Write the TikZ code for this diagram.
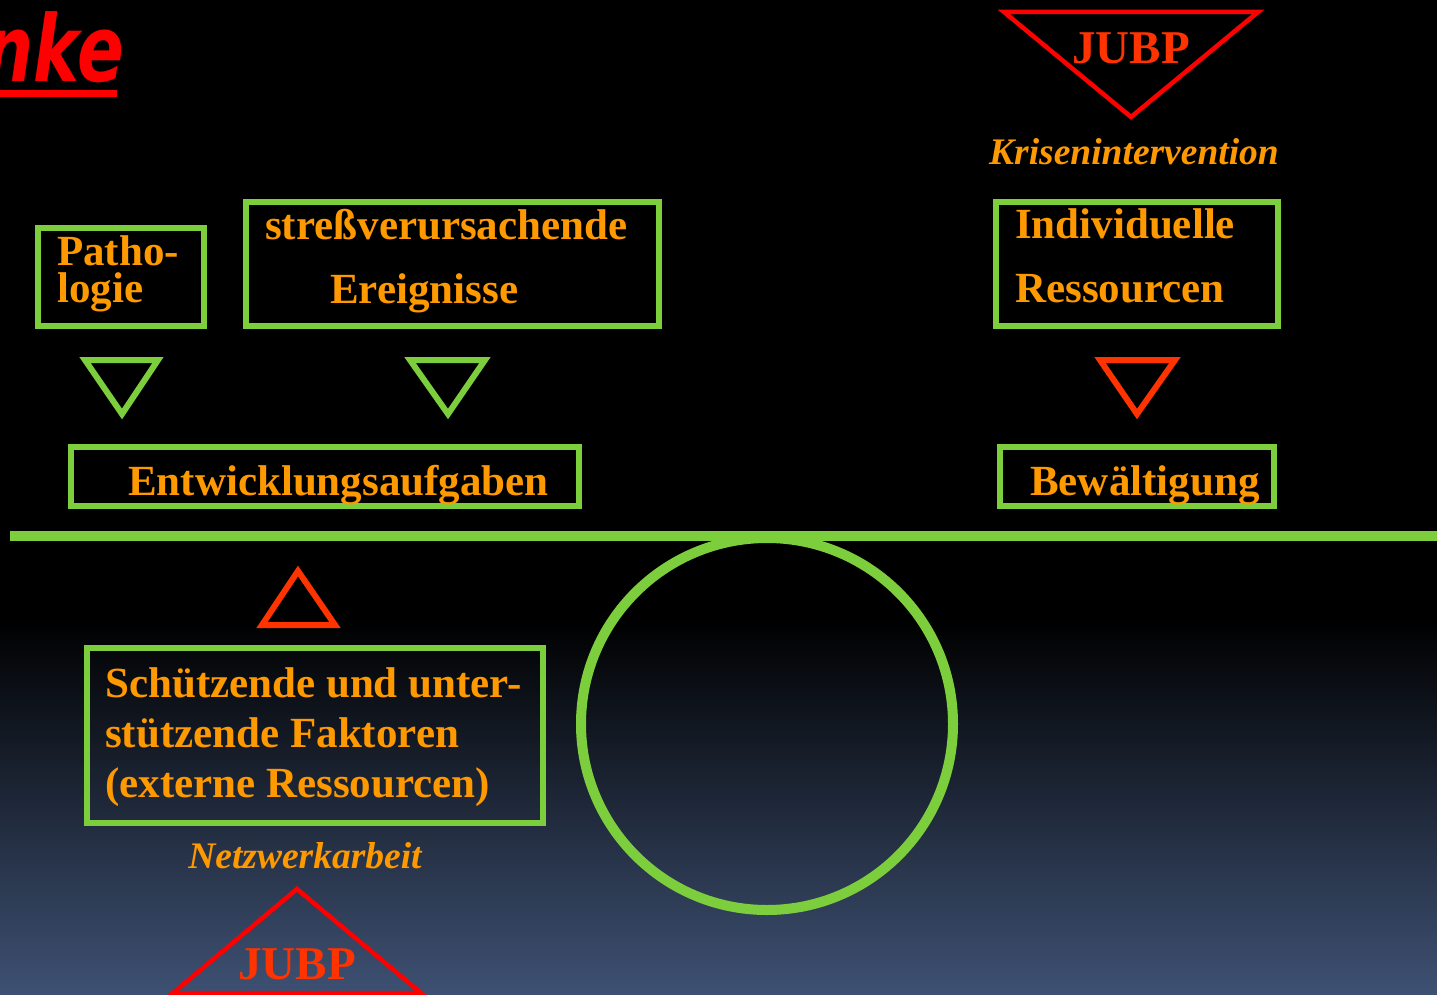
\documentclass[tikz,border=0pt]{standalone}
\usepackage{fontspec}
\setmainfont{Liberation Serif}
\newfontfamily\handfont{DejaVu Sans}
\definecolor{grn}{RGB}{125,206,60}
\definecolor{org}{RGB}{255,153,0}
\definecolor{rd}{RGB}{255,51,0}
\definecolor{pure}{RGB}{255,0,0}
\definecolor{bgbot}{RGB}{62,81,115}
\tikzset{
  box/.style={draw=grn, line width=6pt},
  tri/.style={line width=6pt, miter limit=10},
  lbl/.style={text=org, inner sep=0pt, anchor=base west, font=\bfseries\fontsize{43}{50}\selectfont},
  ital/.style={text=org, inner sep=0pt, anchor=base, font=\bfseries\itshape\fontsize{37.5}{44}\selectfont},
  jubp/.style={text=rd, inner sep=0pt, anchor=base, font=\bfseries\fontsize{47}{56}\selectfont},
}
\begin{document}
\begin{tikzpicture}[x=1pt,y=-1pt]
\useasboundingbox (0,0) rectangle (1437,995);
% background
\fill[black] (0,0) rectangle (1437,620);
\shade[top color=black, bottom color=bgbot] (0,619) rectangle (1437,995);
% title fragment
\node[text=pure, inner sep=0pt, anchor=base east, font=\handfont\bfseries\itshape\fontsize{92}{100}\selectfont, xscale=0.75, transform shape] (title) at (124,82) {nke};
\fill[pure] (0,90) rectangle (117,97);
% top JUBP triangle
\draw[pure, line width=4.5pt, miter limit=10] (1004,12) -- (1258,12) -- (1131,117) -- cycle;
\node[jubp] (jubpT) at (1131,64) {JUBP};
\node[ital] (kris) at (1134,165) {Krisenintervention};
% boxes
\draw[box] (38,228) rectangle (204,326);
\node[lbl] (patho1) at (57,265) {Patho-};
\node[lbl] (patho2) at (57,302) {logie};
\draw[box] (246,202) rectangle (659,326);
\node[lbl] (stress1) at (265,240) {streßverursachende};
\node[lbl] (stress2) at (330,303) {Ereignisse};
\draw[box] (996,202) rectangle (1278,326);
\node[lbl] (indiv1) at (1015,238) {Individuelle};
\node[lbl] (indiv2) at (1015,302) {Ressourcen};
\draw[box] (71,447) rectangle (579,506);
\node[lbl] (entw) at (128,495) {Entwicklungsaufgaben};
\draw[box] (1000,447) rectangle (1274,506);
\node[lbl] (bew) at (1030,495) {Bewältigung};
\draw[box] (87,648) rectangle (543,823);
\node[lbl] (sch1) at (105,697) {Schützende und unter-};
\node[lbl] (sch2) at (105,747) {stützende Faktoren};
\node[lbl] (sch3) at (105,797) {(externe Ressourcen)};
\node[ital] (netz) at (305,868) {Netzwerkarbeit};
% arrow triangles
\draw[grn, tri] (85,360) -- (158,360) -- (122,414) -- cycle;
\draw[grn, tri] (410,360) -- (485,360) -- (448,414) -- cycle;
\draw[rd, tri] (1100,360) -- (1175,360) -- (1137,414) -- cycle;
\draw[rd, tri] (262,625) -- (335,625) -- (298,571) -- cycle;
% seesaw
\draw[grn, line width=10pt] (10,536) -- (1437,536);
\draw[grn, line width=10pt] (767,724) circle[radius=186];
% bottom JUBP triangle
\draw[pure, line width=4.5pt, miter limit=10] (297,889) -- (421,993) -- (173,993) -- cycle;
\node[jubp] (jubpB) at (297,979) {JUBP};
\end{tikzpicture}
\end{document}
